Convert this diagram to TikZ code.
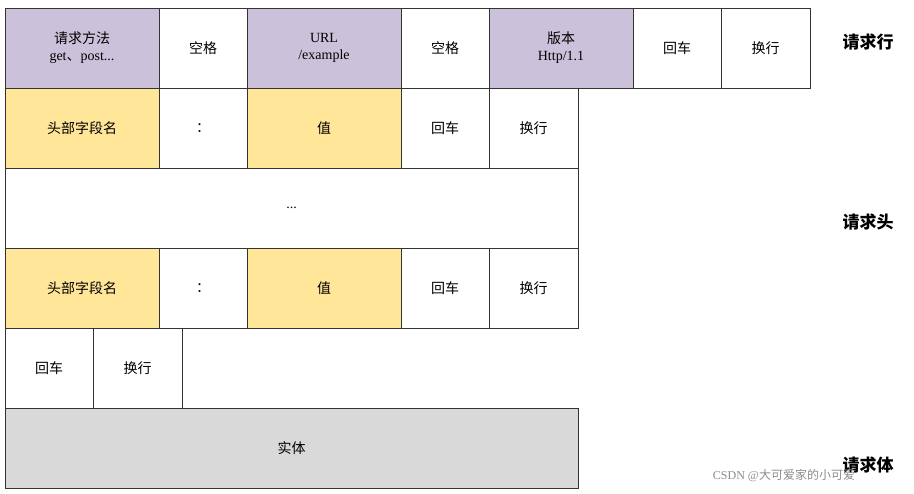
\documentclass[tikz,border=0pt]{standalone}
\usepackage{fontspec}
\setmainfont{Liberation Serif}
\newfontfamily\cjk{Noto Sans CJK SC}
\definecolor{pur}{HTML}{CCC1DA}
\definecolor{yel}{HTML}{FFE699}
\definecolor{gr}{HTML}{D9D9D9}
\tikzset{cellbox/.style={draw=black!80,line width=0.8pt,font=\fontsize{14}{17}\selectfont,align=center},
side/.style={font=\cjk\bfseries\fontsize{17}{20}\selectfont}}
\newcommand\mycell[7]{\draw[cellbox,fill=#6] (#2,#3) rectangle (#4,#5);
\node[cellbox,draw=none] (#1) at ({(#2+#4)/2},{(#3+#5)/2}) {#7};}
\begin{document}
\begin{tikzpicture}[x=1pt,y=-1pt]
\useasboundingbox (0,0) rectangle (914,494);
\mycell{a1}{5}{8}{159}{88}{pur}{{\cjk 请求方法}\\get{\cjk 、}post...}
\mycell{a2}{159}{8}{247}{88}{white}{\cjk 空格}
\mycell{a3}{247}{8}{401}{88}{pur}{URL\\/example}
\mycell{a4}{401}{8}{489}{88}{white}{\cjk 空格}
\mycell{a5}{489}{8}{633}{88}{pur}{{\cjk 版本}\\Http/1.1}
\mycell{a6}{633}{8}{721}{88}{white}{\cjk 回车}
\mycell{a7}{721}{8}{810}{88}{white}{\cjk 换行}
\foreach \r/\y in {b/88,d/248}{
\mycell{\r1}{5}{\y}{159}{\y+80}{yel}{\cjk 头部字段名}
\mycell{\r2}{159}{\y}{247}{\y+80}{white}{\cjk ：}
\mycell{\r3}{247}{\y}{401}{\y+80}{yel}{\cjk 值}
\mycell{\r4}{401}{\y}{489}{\y+80}{white}{\cjk 回车}
\mycell{\r5}{489}{\y}{578}{\y+80}{white}{\cjk 换行}
}
\mycell{c1}{5}{168}{578}{248}{white}{...}
\mycell{e1}{5}{328}{93}{408}{white}{\cjk 回车}
\mycell{e2}{93}{328}{182}{408}{white}{\cjk 换行}
\mycell{f1}{5}{408}{578}{488}{gr}{\cjk 实体}
\node[side] (l1) at (868,42) {请求行};
\node[side] (l2) at (868,222) {请求头};
\node[side] (l3) at (868,465) {请求体};
\node[font=\fontsize{12}{14}\selectfont,text=black!45] (wm) at (784,476) {CSDN @{\cjk 大可爱家的小可爱}};
\end{tikzpicture}
\end{document}
